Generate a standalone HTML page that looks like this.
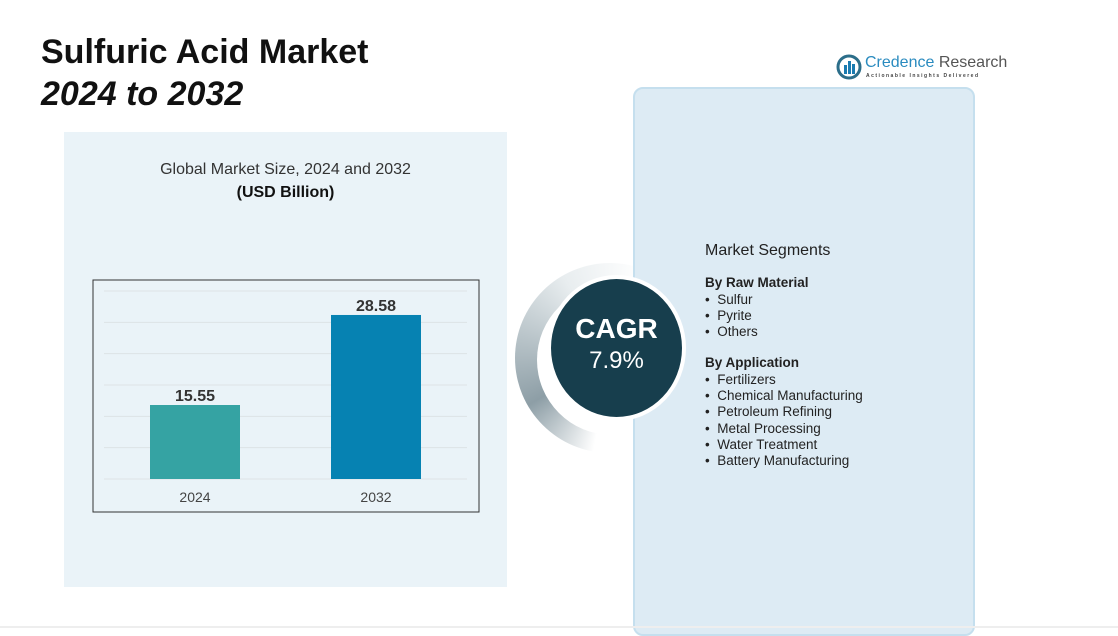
<!DOCTYPE html>
<html><head><meta charset="utf-8">
<style>
body{margin:0;width:1118px;height:628px;background:#fff;font-family:"Liberation Sans",sans-serif;position:relative;overflow:hidden}
.abs{position:absolute}
</style></head><body>
<div class="abs" style="left:41px;top:31px;font-size:34px;font-weight:bold;color:#111;line-height:42px">Sulfuric Acid Market<br><i>2024 to 2032</i></div>
<div class="abs" style="left:836px;top:53px">
<svg width="26" height="28"><circle cx="13" cy="14" r="11" fill="none" stroke="#2c6e8a" stroke-width="3"/><rect x="8" y="12" width="3" height="9" fill="#1a7bb0"/><rect x="12" y="8" width="3" height="13" fill="#1a7bb0"/><rect x="16" y="11" width="3" height="10" fill="#1a7bb0"/></svg>
<span class="abs" style="left:29px;top:1px;font-size:16px;color:#2a8bbf;white-space:nowrap">Credence <span style="color:#555">Research</span></span>
<span class="abs" style="left:30px;top:20px;font-size:5px;letter-spacing:1.5px;color:#444;white-space:nowrap;font-weight:bold">Actionable Insights Delivered</span>
</div>
<div class="abs" style="left:64px;top:132px;width:443px;height:455px;background:#eaf3f8"></div>
<div class="abs" style="left:64px;top:161px;width:443px;text-align:center;font-size:16px;color:#333">Global Market Size, 2024 and 2032<br><b style="line-height:28px;color:#111">(USD Billion)</b></div>
<svg class="abs" style="left:0;top:0" width="1118" height="628" id="chart">
<rect x="93" y="280" width="386" height="232" fill="none" stroke="#333" stroke-width="1"/>
</svg>
<div class="abs" style="left:515px;top:263px;width:190px;height:190px;border-radius:50%;background:conic-gradient(from 180deg,#fff 0deg,#fff 10deg,#8d9ea6 60deg,#e8edef 150deg,#fff 200deg,#fff 360deg)"></div>
<div class="abs" style="left:537px;top:285px;width:150px;height:150px;border-radius:50%;background:#fff"></div>
<div class="abs" style="left:633px;top:87px;width:338px;height:545px;background:#ddebf4;border:2px solid #c5dfee;border-radius:10px"></div>
<div class="abs" style="left:547px;top:275px;width:131px;height:138px;border-radius:50%;background:#173e4d;border:4px solid #fff"></div>
<div class="abs" style="left:551px;top:313px;width:131px;text-align:center;color:#fff;font-weight:bold;font-size:28px">CAGR<div style="font-size:24px;font-weight:normal;margin-top:2px">7.9%</div></div>
<div class="abs" style="left:705px;top:243px;font-size:13.5px;color:#222;line-height:16.3px">
<div style="font-size:16px;margin-bottom:16px">Market Segments</div>
<b>By Raw Material</b><br>•&nbsp; Sulfur<br>•&nbsp; Pyrite<br>•&nbsp; Others<br>
<div style="height:15px"></div>
<b>By Application</b><br>•&nbsp; Fertilizers<br>•&nbsp; Chemical Manufacturing<br>•&nbsp; Petroleum Refining<br>•&nbsp; Metal Processing<br>•&nbsp; Water Treatment<br>•&nbsp; Battery Manufacturing
</div>
<div class="abs" style="left:0;top:626px;width:1118px;height:2px;background:#eee"></div>
<script>
const categories=["2024","2032"];
const values=[15.55,28.58];
const valueLabels=["15.55","28.58"];
const colors=["#35a3a3","#0682b2"];
const yMin=4.84,yMax=32.05;
const svg=document.getElementById('chart');
const ns="http://www.w3.org/2000/svg";
const y0=479,y1=291,xL=104,xR=467;
function yScale(v){return y0-(v-yMin)/(yMax-yMin)*(y0-y1);}
function xCenter(i){return 195+i*181;}
for(let g=0;g<7;g++){const l=document.createElementNS(ns,'line');const yy=y0-g*(y0-y1)/6;
l.setAttribute('x1',xL);l.setAttribute('x2',xR);l.setAttribute('y1',yy);l.setAttribute('y2',yy);l.setAttribute('stroke','#dde3e6');


svg.appendChild(l);}
categories.forEach((c,i)=>{
const r=document.createElementNS(ns,'rect');const yt=yScale(values[i]);
r.setAttribute('x',xCenter(i)-45);r.setAttribute('width',90);r.setAttribute('y',yt);r.setAttribute('height',y0-yt);r.setAttribute('fill',colors[i]);


svg.appendChild(r);
const t=document.createElementNS(ns,'text');t.setAttribute('x',xCenter(i));t.setAttribute('y',yt-4);t.setAttribute('text-anchor','middle');t.setAttribute('font-size','16');t.setAttribute('font-weight','bold');t.setAttribute('fill','#333');t.textContent=valueLabels[i];


svg.appendChild(t);
const x=document.createElementNS(ns,'text');x.setAttribute('x',xCenter(i));x.setAttribute('y',502);x.setAttribute('text-anchor','middle');x.setAttribute('font-size','14');x.setAttribute('fill','#444');x.textContent=c;


svg.appendChild(x);
});
</script>
</body></html>
